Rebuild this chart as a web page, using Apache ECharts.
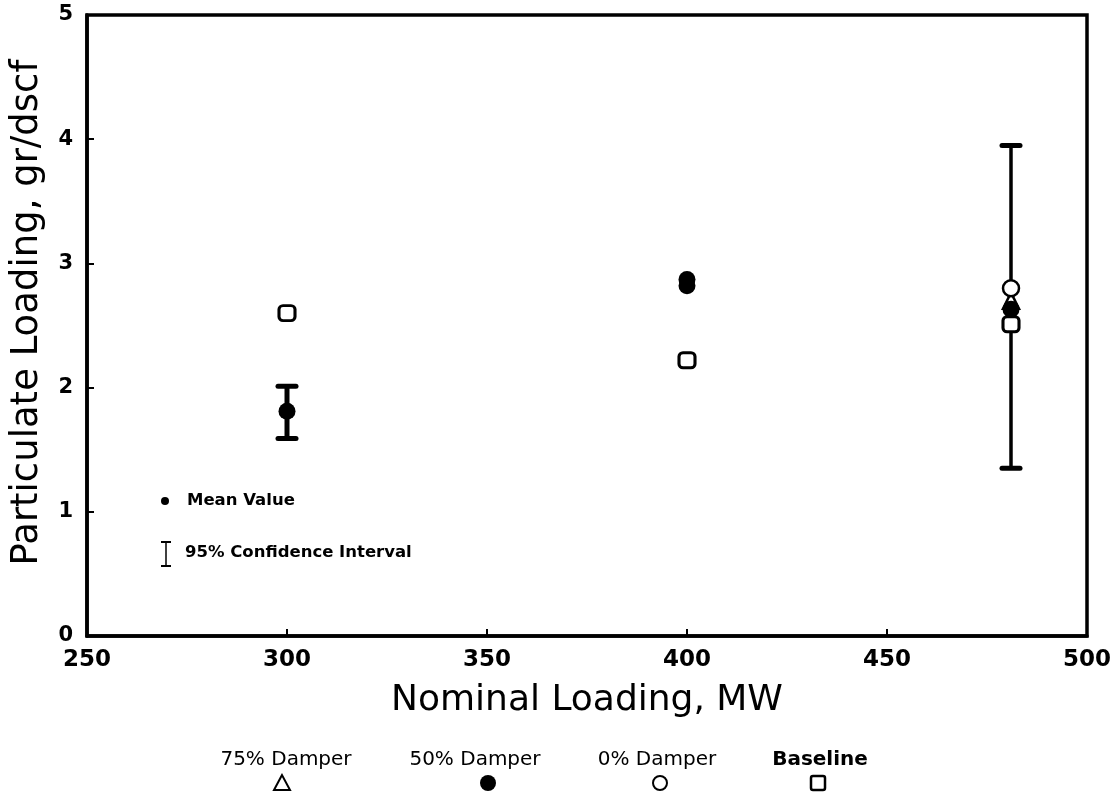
<!DOCTYPE html>
<html>
<head>
<meta charset="utf-8">
<script src="https://cdn.jsdelivr.net/npm/echarts@6/dist/echarts.min.js"></script>
<style>html,body{margin:0;padding:0;background:#fff;}#c{width:1115px;height:795px;}</style>
</head>
<body>
<div id="c"></div>
<script>
// Data
var xTicks = [250, 300, 350, 400, 450, 500];
var yTicks = [0, 1, 2, 3, 4, 5];
var damper75 = [[481, 2.70]];
var damper50 = [[300, 1.81], [400, 2.87], [400, 2.82], [481, 2.63]];
var damper0 = [[481, 2.80]];
var baseline = [[300, 2.60], [400, 2.22], [481, 2.51]];
var confInterval = [[300, 1.59, 2.01], [481, 1.35, 3.95]];
var legendNames = ['75% Damper', '50% Damper', '0% Damper', 'Baseline'];

var chart = echarts.init(document.getElementById('c'));
var FONT = '"DejaVu Sans", Verdana, sans-serif';

function errorBar(params, api) {
  var x = api.value(0);
  var lo = api.coord([x, api.value(1)]);
  var hi = api.coord([x, api.value(2)]);
  var half = 9;
  var lw = params.dataIndex === 0 ? 5 : 3.5;
  return {
    type: 'group',
    children: [
      {type: 'line', shape: {x1: lo[0], y1: lo[1], x2: hi[0], y2: hi[1]}, style: {stroke: '#000', lineWidth: lw}},
      {type: 'line', shape: {x1: lo[0] - half, y1: lo[1], x2: lo[0] + half, y2: lo[1]}, style: {stroke: '#000', lineWidth: 5, lineCap: 'round'}},
      {type: 'line', shape: {x1: hi[0] - half, y1: hi[1], x2: hi[0] + half, y2: hi[1]}, style: {stroke: '#000', lineWidth: 5, lineCap: 'round'}}
    ]
  };
}

var option = {
  backgroundColor: '#fff',
  animation: false,
  grid: {left: 87, right: 28, top: 15, bottom: 159, show: true, borderColor: '#000', borderWidth: 3.5, backgroundColor: 'transparent'},
  xAxis: {
    type: 'value', min: xTicks[0], max: xTicks[xTicks.length - 1], interval: 50,
    name: 'Nominal Loading, MW', nameLocation: 'middle', nameGap: 47,
    nameTextStyle: {fontFamily: FONT, fontSize: 36, color: '#000'},
    axisLine: {show: true, lineStyle: {color: '#000', width: 3.5}},
    axisTick: {show: true, inside: true, length: 7, lineStyle: {color: '#000', width: 2}},
    axisLabel: {fontFamily: FONT, fontWeight: 'bold', fontSize: 23, color: '#000', margin: 13},
    splitLine: {show: false}
  },
  yAxis: {
    type: 'value', min: yTicks[0], max: yTicks[yTicks.length - 1], interval: 1,
    name: 'Particulate Loading, gr/dscf', nameLocation: 'middle', nameGap: 41,
    nameTextStyle: {fontFamily: FONT, fontSize: 37, color: '#000', padding: [0, 0, 0, 26]},
    axisLine: {show: true, lineStyle: {color: '#000', width: 3.5}},
    axisTick: {show: true, inside: true, length: 7, lineStyle: {color: '#000', width: 2}},
    axisLabel: {fontFamily: FONT, fontWeight: 'bold', fontSize: 21, color: '#000', margin: 14},
    splitLine: {show: false}
  },
  series: [
    {type: 'custom', name: 'CI', renderItem: errorBar, data: confInterval, encode: {x: 0, y: [1, 2]}, z: 1},
    {type: 'scatter', name: legendNames[0], data: damper75, symbol: 'triangle', symbolSize: 16,
      itemStyle: {color: '#fff', borderColor: '#000', borderWidth: 2.5, opacity: 1}, z: 2},
    {type: 'scatter', name: legendNames[3], data: baseline, symbol: 'roundRect', symbolSize: [16, 15],
      itemStyle: {color: '#fff', borderColor: '#000', borderWidth: 3, opacity: 1}, z: 3},
    {type: 'scatter', name: legendNames[2], data: damper0, symbol: 'circle', symbolSize: 16,
      itemStyle: {color: '#fff', borderColor: '#000', borderWidth: 2.5, opacity: 1}, z: 4},
    {type: 'scatter', name: legendNames[1], data: damper50, symbol: 'circle', symbolSize: 17,
      itemStyle: {color: '#000', borderColor: '#000', borderWidth: 0, opacity: 1}, z: 5}
  ],
  graphic: [
    // in-plot key
    {type: 'circle', shape: {cx: 165, cy: 501, r: 4}, style: {fill: '#000'}},
    {type: 'text', left: 187, top: 492, style: {text: 'Mean Value', font: 'bold 16.5px ' + FONT, fill: '#000'}},
    {type: 'line', shape: {x1: 166, y1: 542, x2: 166, y2: 566}, style: {stroke: '#000', lineWidth: 1.5}},
    {type: 'line', shape: {x1: 161, y1: 542, x2: 171, y2: 542}, style: {stroke: '#000', lineWidth: 2}},
    {type: 'line', shape: {x1: 161, y1: 566, x2: 171, y2: 566}, style: {stroke: '#000', lineWidth: 2}},
    {type: 'text', left: 185, top: 544, style: {text: '95% Confidence Interval', font: 'bold 16.5px ' + FONT, fill: '#000'}},
    // bottom legend
    {type: 'text', x: 286, y: 760, style: {text: legendNames[0], font: '20px ' + FONT, fill: '#000', align: 'center', verticalAlign: 'middle'}},
    {type: 'text', x: 475, y: 760, style: {text: legendNames[1], font: '20px ' + FONT, fill: '#000', align: 'center', verticalAlign: 'middle'}},
    {type: 'text', x: 657, y: 760, style: {text: legendNames[2], font: '20px ' + FONT, fill: '#000', align: 'center', verticalAlign: 'middle'}},
    {type: 'text', x: 820, y: 760, style: {text: legendNames[3], font: 'bold 20px ' + FONT, fill: '#000', align: 'center', verticalAlign: 'middle'}},
    {type: 'polygon', shape: {points: [[282, 775], [274, 790], [290, 790]]}, style: {fill: '#fff', stroke: '#000', lineWidth: 2}},
    {type: 'circle', shape: {cx: 488, cy: 783, r: 8}, style: {fill: '#000'}},
    {type: 'circle', shape: {cx: 660, cy: 783, r: 7}, style: {fill: '#fff', stroke: '#000', lineWidth: 2}},
    {type: 'rect', shape: {x: 811, y: 776, width: 14, height: 14, r: 2}, style: {fill: '#fff', stroke: '#000', lineWidth: 2.5}}
  ]
};
chart.setOption(option);
</script>
</body>
</html>
